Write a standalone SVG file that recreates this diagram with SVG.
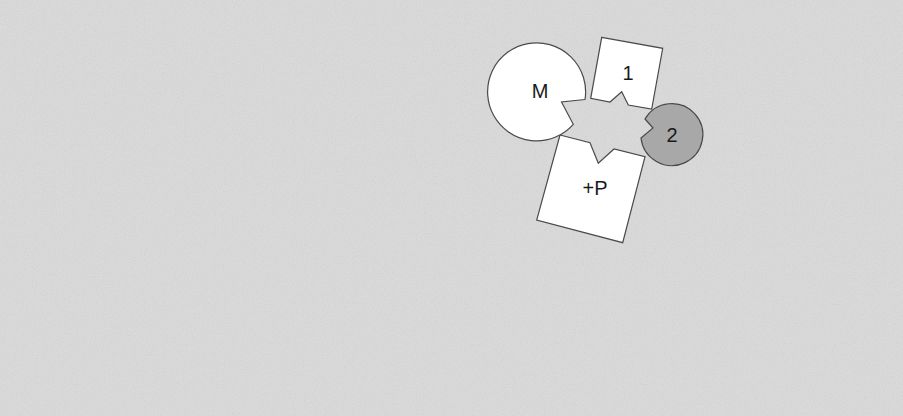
<svg xmlns="http://www.w3.org/2000/svg" width="903" height="416" viewBox="0 0 903 416">
  <defs>
    <filter id="grain" x="0" y="0" width="100%" height="100%">
      <feTurbulence type="fractalNoise" baseFrequency="0.9" numOctaves="1" seed="3" result="n"/>
      <feColorMatrix in="n" type="matrix" values="0 0 0 0 0.45  0 0 0 0 0.45  0 0 0 0 0.45  1.2 0 0 0 -0.55"/>
    </filter>
  </defs>
  <style>
    .shape { fill: #ffffff; stroke: #4a4a4a; stroke-width: 1.2; stroke-linejoin: miter; }
    .dark { fill: #a8a8a8; }
    .lbl { font-family: "Liberation Sans", Arial, sans-serif; font-size: 20px; fill: #1a1a1a; text-anchor: middle; dominant-baseline: central; }
  </style>
  <rect x="0" y="0" width="903" height="416" fill="#d9d9d9"/>
  <rect x="0" y="0" width="903" height="416" filter="url(#grain)" opacity="0.5"/>
  <g id="nodes">
    <g id="node-P">
      <path class="shape" d="M560,135 L590,142.7 L598.3,163.3 L614,149 L645,156.7 L622.7,242.7 L536.7,220 Z"/>
      <text class="lbl" x="595" y="188">+P</text>
    </g>
    <g id="node-M">
      <path class="shape" d="M585,99.5 L561.5,102 L573.3,124.3 A49 49 0 1 1 585,99.5 Z"/>
      <text class="lbl" x="540" y="91">M</text>
    </g>
    <g id="node-1">
      <path class="shape" d="M601.7,37.3 L662.7,48.3 L651.7,109 L628.3,105 L621.7,91.7 L610,102 L590.7,98.3 Z"/>
      <text class="lbl" x="628" y="73">1</text>
    </g>
    <g id="node-2">
      <path class="shape dark" d="M645,119 L653,128 L641,138 A31 31 0 1 0 645,119 Z"/>
      <text class="lbl" x="672" y="135">2</text>
    </g>
  </g>
  <g id="connectors"></g>
</svg>
